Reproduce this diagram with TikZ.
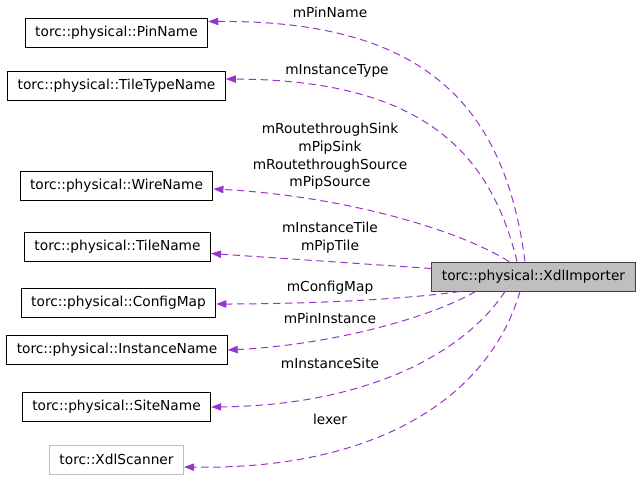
\documentclass[tikz,border=0pt]{standalone}
\usepackage{fontspec}
\setmainfont{DejaVu Sans}
\usetikzlibrary{arrows.meta,calc}
\definecolor{edgepurple}{HTML}{9A32CD}
\definecolor{boxgray}{HTML}{BFBFBF}
\begin{document}
\begin{tikzpicture}[x=0.75pt,y=-0.75pt,
    classbox/.style={draw=black,line width=0.75pt,minimum height=21.75pt,inner xsep=7.5pt,font=\fontsize{10.3}{12}\selectfont},
    extbox/.style={classbox,draw=boxgray},
    mainbox/.style={classbox,draw=black!75,fill=boxgray},
    member/.style={font=\fontsize{10.3}{13.3}\selectfont,align=center,inner sep=0pt},
    uses/.style={draw=edgepurple,line width=0.75pt,dash pattern=on 5.5pt off 3.5pt,-{Triangle[length=7.5pt,width=5.5pt]}}]
    \useasboundingbox (0,0) rectangle (640,480);
    % classes
    \node [classbox] (pin) at (116.5,32.5) {torc::physical::PinName};
    \node [classbox] (tiletype) at (116.5,85.5) {torc::physical::TileTypeName};
    \node [classbox] (wire) at (116.5,185.5) {torc::physical::WireName};
    \node [classbox] (tile) at (117.5,246.5) {torc::physical::TileName};
    \node [classbox] (config) at (118.5,302.5) {torc::physical::ConfigMap};
    \node [classbox] (instname) at (117,350) {torc::physical::InstanceName};
    \node [classbox] (site) at (116.5,406.5) {torc::physical::SiteName};
    \node [extbox] (scanner) at (116.5,459.5) {torc::XdlScanner};
    \node [mainbox] (imp) at (533.5,276.5) {torc::physical::XdlImporter};
    % member labels
    \node [member] (lpin) at (330,12) {mPinName};
    \node [member] (ltiletype) at (337,71) {mInstanceType};
    \node [member] (lwire) at (330,156.5) {mRoutethroughSink\\mPipSink\\mRoutethroughSource\\mPipSource};
    \node [member] (ltile) at (330,237.5) {mInstanceTile\\mPipTile};
    \node [member] (lconfig) at (330,288) {mConfigMap};
    \node [member] (linst) at (330,318) {mPinInstance};
    \node [member] (lsite) at (330,363) {mInstanceSite};
    \node [member] (lscan) at (330,419) {lexer};
    % associations
    \draw [uses] ($(imp.north)+(-8.5,0)$) .. controls (505,110) and (430,20) .. ($(pin.north east)+(0,4)$);
    \draw [uses] ($(imp.north)+(-16.5,0)$) .. controls (490,150) and (420,80) .. ($(tiletype.north east)+(0,8.5)$);
    \draw [uses] ($(imp.north)+(-24.5,0)$) .. controls (450,225) and (330,195) .. ($(wire.east)+(0,3.5)$);
    \draw [uses] ($(imp.west)+(0,-8)$) -- ($(tile.east)+(0,7)$);
    \draw [uses] ($(imp.south)+(-73.5,0)$) .. controls (400,300) and (300,304) .. ($(config.east)+(0,1.5)$);
    \draw [uses] ($(imp.south)+(-58,0)$) .. controls (430,318) and (330,345) .. (instname.east);
    \draw [uses] ($(imp.south)+(-28.5,0)$) .. controls (470,345) and (380,405) .. ($(site.east)+(0,0.5)$);
    \draw [uses] ($(imp.south)+(-13.5,0)$) .. controls (490,395) and (380,470) .. ($(scanner.east)+(0,7.5)$);
\end{tikzpicture}
\end{document}
